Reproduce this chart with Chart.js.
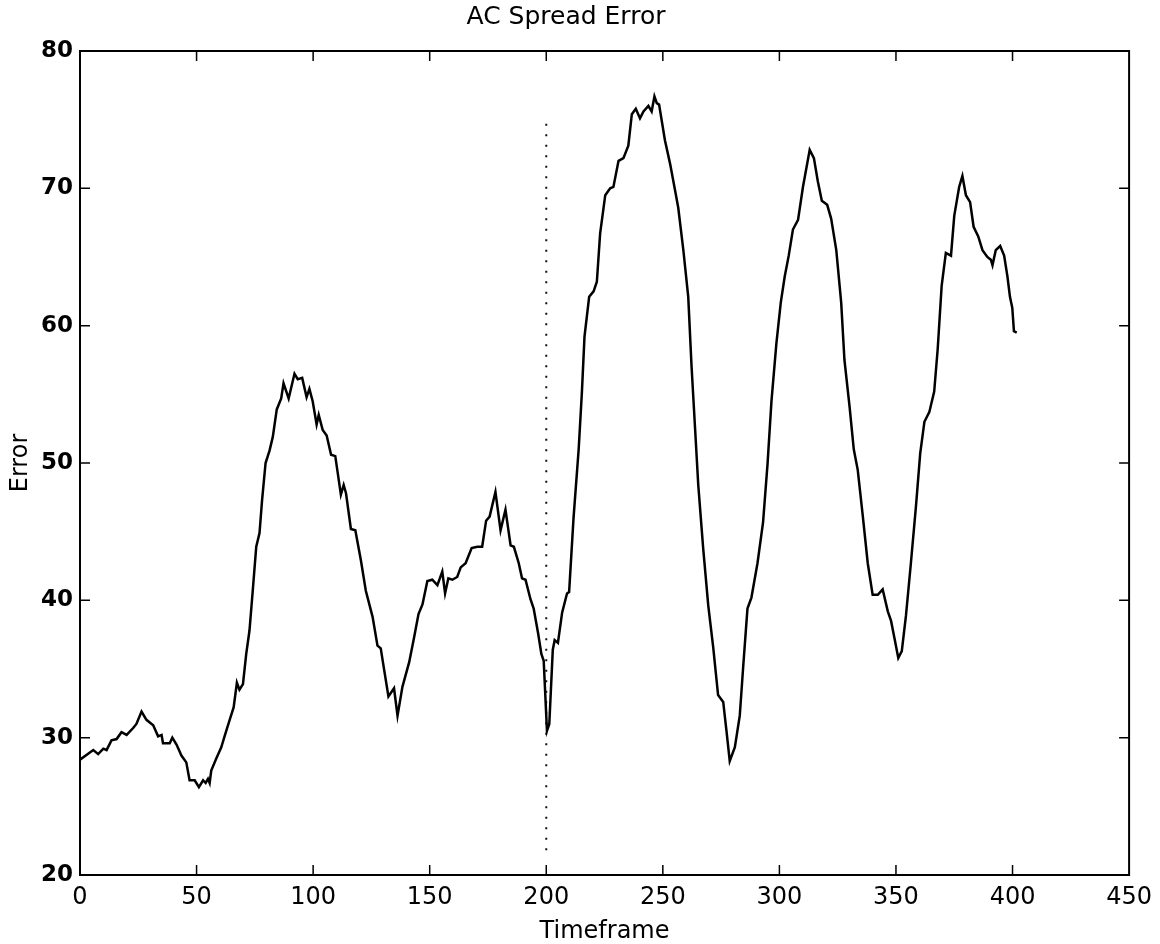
<!DOCTYPE html>
<html>
<head>
<meta charset="utf-8">
<script src="https://cdn.jsdelivr.net/npm/chart.js@4/dist/chart.umd.min.js"></script>
<style>
  html, body { margin: 0; padding: 0; background: #ffffff; }
  #wrap { width: 1160px; height: 944px; }
</style>
</head>
<body>
<div id="wrap"><canvas id="c" width="1160" height="944"></canvas></div>
<script>
const chartTitle = 'AC Spread Error';
const xTitle = 'Timeframe';
const yTitle = 'Error';

const timeframe = [
  0,5.7,7.8,10,11.4,13.5,15.7,17.8,20,22.8,
  24.2,26.4,28.5,31.4,33.5,35,35.6,38.5,39.6,41.4,
  43.5,45.6,47,49.2,51,52.8,53.9,54.9,55.6,56.3,
  58.5,60.6,62,64.2,65.9,67.3,68.4,69.9,71.3,72.7,
  74.1,75.6,77,78.1,79.6,81.3,82.7,84.4,86.3,87.3,
  89.5,92,93.4,95.3,97.2,98.4,99.8,101.5,102.4,104.1,
  105.8,107.7,109.5,111.9,113.1,114.1,116.2,118.1,120.5,122.6,
  125.5,127.6,129,130.5,132.3,134.7,136.2,138.3,141.2,143.3,
  145.2,146.9,149,151.1,153.3,155.4,156.6,158,159.7,161.8,
  163.3,165.4,168,170.4,172.5,174.2,175.7,178.2,180.4,182.5,
  184.7,186.1,188.2,189.6,191.1,193.2,194.6,196.5,197.9,198.9,
  200.3,201.3,202.8,203.6,205,206.8,208.9,209.8,211.7,213.9,
  215.3,216.4,218.4,220.3,221.7,223.1,225.3,227.4,228.8,231,
  233.1,235.2,236.7,238.4,240.2,241.7,243.8,245.2,246.4,247.4,
  248.4,250.9,253.1,255.2,256.6,258.8,260.9,262.3,263.8,265.2,
  267.3,269.5,271.6,273.7,275.9,277.3,278.7,280.9,283,284.4,
  286.3,288,290.6,293,294.9,296.6,298.7,300.6,302.3,304,
  305.8,308,310.1,313,314.8,316.5,318.2,320.5,322.2,324.4,
  326.5,327.9,330.1,331.9,333.6,335.8,337.9,340,342.2,344.3,
  346.5,347.9,349.3,351,352.5,354.3,356.4,358.6,360.4,362.2,
  364.3,366.4,367.9,369.6,371.4,373.6,375,377.1,378.5,380,
  381.8,383.3,385.3,387.1,389.2,390.7,391.4,392.8,394.7,396.4,
  397.8,398.9,399.9,400.6,401.8
];

const errorValues = [
  28.4,29.1,28.8,29.2,29.1,29.8,29.9,30.4,30.2,30.7,
  31.0,31.9,31.3,30.9,30.1,30.2,29.6,29.6,30.0,29.5,
  28.7,28.2,26.9,26.9,26.4,26.9,26.7,27.0,26.7,27.6,
  28.5,29.3,30.1,31.3,32.2,34.0,33.5,33.9,36.1,37.8,
  40.7,43.9,44.9,47.3,50.0,50.9,51.9,53.9,54.7,55.8,
  54.7,56.5,56.1,56.2,54.8,55.4,54.5,52.8,53.5,52.4,
  52.0,50.6,50.5,47.7,48.4,47.8,45.2,45.1,42.9,40.7,
  38.8,36.7,36.5,34.9,33.0,33.6,31.6,33.7,35.5,37.3,
  39.0,39.7,41.4,41.5,41.1,42.1,40.5,41.6,41.5,41.7,
  42.4,42.7,43.8,43.9,43.9,45.8,46.1,47.9,45.1,46.6,
  44.0,43.9,42.7,41.6,41.5,40.1,39.4,37.6,36.1,35.6,
  30.5,31.0,36.4,37.1,36.9,39.1,40.5,40.6,46.0,51.0,
  55.2,59.2,62.1,62.5,63.2,66.7,69.5,70.0,70.1,72.0,
  72.2,73.1,75.4,75.8,75.1,75.6,76.0,75.6,76.7,76.2,
  76.1,73.5,71.8,69.9,68.6,65.5,62.1,57.1,52.6,48.4,
  43.8,39.6,36.6,33.1,32.6,30.5,28.3,29.3,31.6,35.0,
  39.4,40.2,42.7,45.7,49.9,54.5,58.7,61.7,63.6,65.1,
  67.0,67.7,70.1,72.8,72.2,70.5,69.1,68.8,67.8,65.5,
  61.7,57.5,54.1,51.0,49.5,46.1,42.7,40.4,40.4,40.8,
  39.2,38.5,37.3,35.8,36.3,38.9,42.7,46.9,50.7,53.0,
  53.7,55.2,58.3,62.9,65.3,65.1,68.0,70.1,70.9,69.5,
  69.0,67.2,66.5,65.5,65.0,64.8,64.4,65.5,65.8,65.1,
  63.6,62.1,61.3,59.6,59.5
];

// vertical dotted marker
const markerX = [200, 200];
const markerY = [21.8, 75];

const xTicks = [0, 50, 100, 150, 200, 250, 300, 350, 400, 450];
const yTicks = [20, 30, 40, 50, 60, 70, 80];

const mainData = timeframe.map((x, i) => ({ x: x, y: errorValues[i] }));
const markerData = markerX.map((x, i) => ({ x: x, y: markerY[i] }));

const boxTicks = {
  id: 'boxTicks',
  afterDatasetsDraw(chart) {
    const { ctx, chartArea: a, scales } = chart;
    const L = 10;
    ctx.save();
    ctx.strokeStyle = '#000';
    ctx.lineWidth = 2;
    ctx.strokeRect(a.left, a.top, a.right - a.left, a.bottom - a.top);
    ctx.lineWidth = 1.5;
    ctx.beginPath();
    scales.x.ticks.forEach(t => {
      const px = scales.x.getPixelForValue(t.value);
      if (px <= a.left + 1 || px >= a.right - 1) return;
      ctx.moveTo(px, a.bottom); ctx.lineTo(px, a.bottom - L);
      ctx.moveTo(px, a.top); ctx.lineTo(px, a.top + L);
    });
    scales.y.ticks.forEach(t => {
      const py = scales.y.getPixelForValue(t.value);
      if (py <= a.top + 1 || py >= a.bottom - 1) return;
      ctx.moveTo(a.left, py); ctx.lineTo(a.left + L, py);
      ctx.moveTo(a.right, py); ctx.lineTo(a.right - L, py);
    });
    ctx.stroke();
    ctx.restore();
  }
};

const FONT = 'DejaVu Sans';

new Chart(document.getElementById('c'), {
  type: 'line',
  data: {
    datasets: [
      {
        data: mainData,
        borderColor: '#000',
        borderWidth: 2.5,
        pointRadius: 0,
        tension: 0,
        fill: false
      },
      {
        data: markerData,
        borderColor: '#111',
        borderWidth: 2,
        borderDash: [2, 8.5],
        pointRadius: 0,
        fill: false
      }
    ]
  },
  options: {
    responsive: false,
    animation: false,
    events: [],
    layout: { padding: { left: 0, right: 28, top: 0, bottom: 0 } },
    plugins: {
      legend: { display: false },
      tooltip: { enabled: false },
      title: {
        display: true,
        text: chartTitle,
        color: '#000',
        font: { family: FONT, size: 25, weight: 'normal', lineHeight: 1.2 },
        padding: { top: 2, bottom: 19 }
      }
    },
    scales: {
      x: {
        type: 'linear',
        min: 0, max: 450,
        afterBuildTicks: s => { s.ticks = xTicks.map(v => ({ value: v })); },
        afterFit: s => { s.height = 69; },
        grid: { display: false, drawTicks: false },
        border: { display: false },
        ticks: {
          color: '#000',
          padding: 8,
          maxRotation: 0,
          autoSkip: false,
          font: { family: FONT, size: 24, weight: 'normal', lineHeight: 1.2 }
        },
        title: {
          display: true,
          text: xTitle,
          color: '#000',
          font: { family: FONT, size: 24, weight: 'normal', lineHeight: 1 },
          padding: 0
        }
      },
      y: {
        type: 'linear',
        min: 20, max: 80,
        afterBuildTicks: s => { s.ticks = yTicks.map(v => ({ value: v })); },
        afterFit: s => { s.width = 80; },
        grid: { display: false, drawTicks: false },
        border: { display: false },
        ticks: {
          color: '#000',
          padding: 7,
          autoSkip: false,
          font: { family: FONT, size: 23, weight: 'bold' }
        },
        title: {
          display: true,
          text: yTitle,
          color: '#000',
          font: { family: FONT, size: 24, weight: 'normal', lineHeight: 1.2 },
          padding: { top: 6, bottom: 0 }
        }
      }
    }
  },
  plugins: [boxTicks]
});
</script>
</body>
</html>
